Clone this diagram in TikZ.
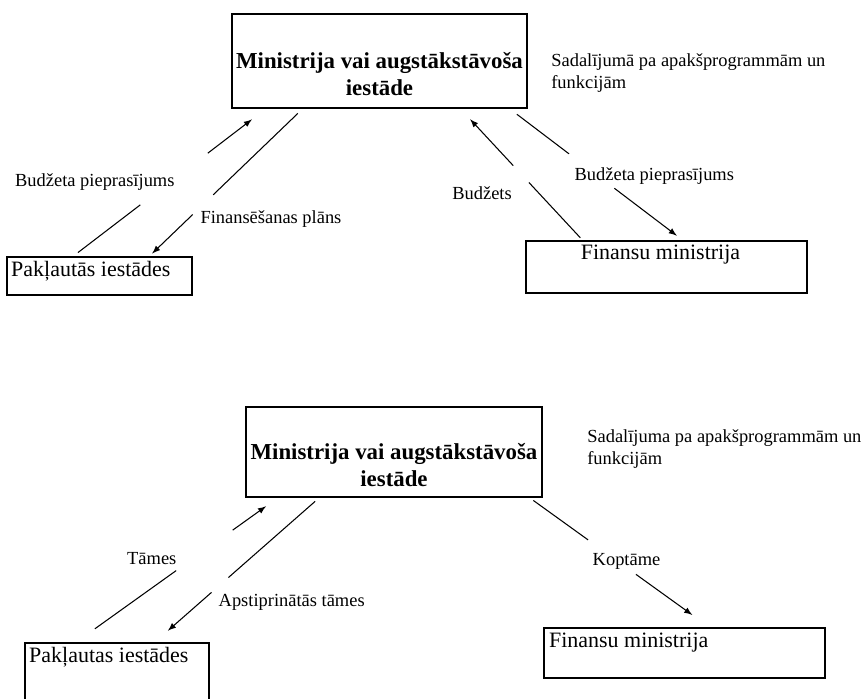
\documentclass[tikz,border=0pt]{standalone}
\usepackage{fontspec}
\setmainfont{Liberation Serif}
\usetikzlibrary{arrows}

\tikzset{
  box/.style={draw, line width=1.6pt, inner sep=0pt},
  link/.style={-latex, line width=0.6pt},
  lbl/.style={font=\fontsize{10.5}{12.5}\selectfont, inner sep=0pt},
  title/.style={font=\fontsize{13}{15}\selectfont\bfseries, align=center},
  boxname/.style={font=\fontsize{12.5}{15}\selectfont, inner sep=3pt}
}

\begin{document}
\begin{tikzpicture}[x=0.02cm, y=-0.02cm]
\useasboundingbox (0,0) rectangle (867,699);

% budzeta sagatavosana
\node[box, minimum width=5.9cm, minimum height=1.88cm,
      label={[title, yshift=-0.26cm]center:Ministrija vai augstākstāvoša\\iestāde}] (min1) at (379.5,61) {};
\node[lbl, align=left, anchor=west] (note1) at (551,73) {Sadalījumā pa apakšprogrammām un\\funkcijām};
\node[box, minimum width=3.7cm, minimum height=0.76cm,
      label={[boxname, anchor=north west]north west:Pakļautās iestādes}] (pak1) at (99.5,276) {};
\node[box, minimum width=5.62cm, minimum height=1.04cm,
      label={[boxname, anchor=north, xshift=-0.12cm]north:Finansu ministrija}] (fin1) at (666.5,267) {};

\draw[link, shorten <=0.1cm, shorten >=0.33cm, dash pattern=on 1.57cm off 1.7cm on 5cm]
  ([xshift=-0.51cm]pak1.north) -- node[lbl, pos=0.5, anchor=east, xshift=0.11cm] (req1) {Budžeta pieprasījums} ([xshift=-2.29cm]min1.south);
\draw[link, shorten <=0.115cm, shorten >=0.06cm, dash pattern=on 2.35cm off 0.57cm on 5cm]
  ([xshift=-1.55cm]min1.south) -- node[lbl, pos=0.75, anchor=west, xshift=0.24cm] (plan1) {Finansēšanas plāns} ([xshift=1.01cm]pak1.north);
\draw[link, shorten <=0.05cm, shorten >=0.27cm, dash pattern=on 1.51cm off 0.46cm on 5cm]
  ([xshift=-1.69cm]fin1.north) -- node[lbl, pos=0.353, anchor=east, xshift=-0.54cm] (bud1) {Budžets} ([xshift=1.63cm]min1.south);
\draw[link, shorten <=0.16cm, shorten >=0.13cm, dash pattern=on 1.31cm off 1.14cm on 5cm]
  ([xshift=2.62cm]min1.south) -- node[lbl, pos=0.511, anchor=west, xshift=-0.48cm] (req2) {Budžeta pieprasījums} ([xshift=0.31cm]fin1.north);

% tames
\node[box, minimum width=5.92cm, minimum height=1.8cm,
      label={[title, yshift=-0.26cm]center:Ministrija vai augstākstāvoša\\iestāde}] (min2) at (394,452) {};
\node[lbl, align=left, anchor=west] (note2) at (587,449) {Sadalījuma pa apakšprogrammām un\\funkcijām};
\node[box, minimum width=3.68cm, minimum height=1.6cm,
      label={[boxname, anchor=north west]north west:Pakļautas iestādes}] (pak2) at (117,683) {};
\node[box, minimum width=5.62cm, minimum height=1.0cm,
      label={[boxname, anchor=north west, inner sep=3.5pt]north west:Finansu ministrija}] (fin2) at (684.5,653) {};

\draw[link, shorten <=0.44cm, shorten >=0.27cm, dash pattern=on 2cm off 1.39cm on 5cm]
  ([xshift=-0.8cm]pak2.north) -- node[lbl, pos=0.582, anchor=east, xshift=-0.33cm] (tam) {Tāmes} ([xshift=-2.34cm]min2.south);
\draw[link, shorten <=0.09cm, shorten >=0.33cm, dash pattern=on 2.31cm off 0.45cm on 5cm]
  ([xshift=-1.51cm]min2.south) -- node[lbl, pos=0.726, anchor=west, xshift=0.36cm] (apst) {Apstiprinātās tāmes} ([xshift=0.77cm]pak2.north);
\draw[link, shorten <=0.07cm, shorten >=0.4cm, dash pattern=on 1.35cm off 1.18cm on 5cm]
  ([xshift=2.73cm]min2.south) -- node[lbl, pos=0.489, xshift=0.18cm] (kop) {Koptāme} ([xshift=0.48cm]fin2.north);
\end{tikzpicture}
\end{document}
